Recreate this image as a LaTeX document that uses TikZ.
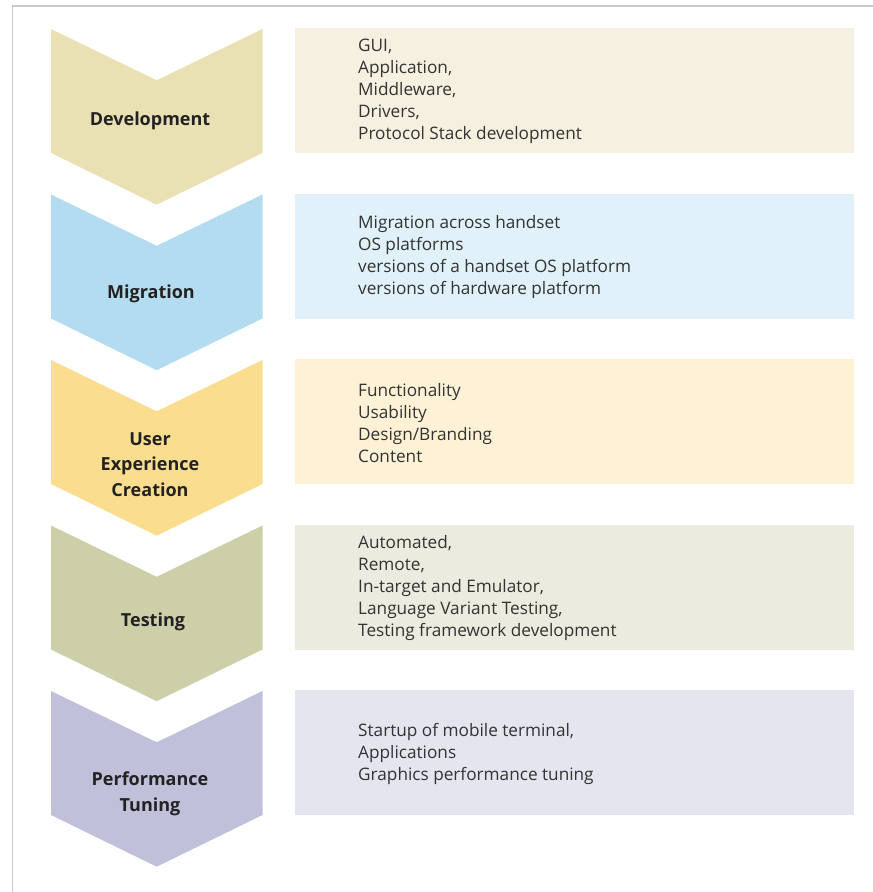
\documentclass[tikz,border=0pt]{standalone}
\usepackage{fontspec}
\setmainfont{Open Sans}
\definecolor{devC}{HTML}{E9E0B4}
\definecolor{devB}{HTML}{F5F0DF}
\definecolor{migC}{HTML}{B3DCF0}
\definecolor{migB}{HTML}{E0F1F9}
\definecolor{uxC}{HTML}{FADD8E}
\definecolor{uxB}{HTML}{FEF1D6}
\definecolor{tstC}{HTML}{CDCFA9}
\definecolor{tstB}{HTML}{ECEBDF}
\definecolor{perC}{HTML}{C0C0DA}
\definecolor{perB}{HTML}{E5E5F0}
\definecolor{txt}{HTML}{333333}
\definecolor{lbl}{HTML}{222222}
\definecolor{frameC}{HTML}{C8C8C8}
\tikzset{
  chev/.pic={\path[pic actions] (0,0) -- (105.7,51.3) -- (211.5,0) -- (211.5,124) -- (105.7,175.7) -- (0,124) -- cycle;},
  itembox/.style={minimum width=559pt, minimum height=125pt, anchor=north west, inner sep=0pt, draw=none},
  items/.style={anchor=west, align=left, inner sep=0pt, text=txt, font=\fontsize{17.2}{22}\selectfont},
  label/.style={align=center, inner sep=0pt, text=lbl, font=\fontsize{18}{25.5}\selectfont\bfseries}
}
\begin{document}
\begin{tikzpicture}[x=1pt,y=-1pt]
\useasboundingbox (0,0) rectangle (873,892);
\draw[frameC, line width=1.8pt] (12,6) -- (873,6);
\draw[frameC, line width=1pt] (12.5,6) -- (12.5,892);
% row 1
\pic[fill=devC] at (51,29) {chev};
\node[itembox, fill=devB] (b1) at (295,28) {};
\node[label] (l1) at (150,120.5) {Development};
\node[items] (t1) at (358,91.5) {GUI,\\Application,\\Middleware,\\Drivers,\\Protocol Stack development};
% row 2
\pic[fill=migC] at (51,194.5) {chev};
\node[itembox, fill=migB] (b2) at (295,193.5) {};
\node[label] (l2) at (151,293.5) {Migration};
\node[items] (t2) at (358,257) {Migration across handset\\OS platforms\\versions of a handset OS platform\\versions of hardware platform};
% row 3
\pic[fill=uxC] at (51,360) {chev};
\node[itembox, fill=uxB] (b3) at (295,359) {};
\node[label] (l3) at (150,464.5) {User\\Experience\\Creation};
\node[items] (t3) at (358,423) {Functionality\\Usability\\Design/Branding\\Content};
% row 4
\pic[fill=tstC] at (51,525.5) {chev};
\node[itembox, fill=tstB] (b4) at (295,524.5) {};
\node[label] (l4) at (153,621.5) {Testing};
\node[items] (t4) at (358,588.5) {Automated,\\Remote,\\In-target and Emulator,\\Language Variant Testing,\\Testing framework development};
% row 5
\pic[fill=perC] at (51,691) {chev};
\node[itembox, fill=perB] (b5) at (295,690) {};
\node[label] (l5) at (150,794) {Performance\\Tuning};
\node[items] (t5) at (358,754) {Startup of mobile terminal,\\Applications\\Graphics performance tuning};
\end{tikzpicture}
\end{document}
